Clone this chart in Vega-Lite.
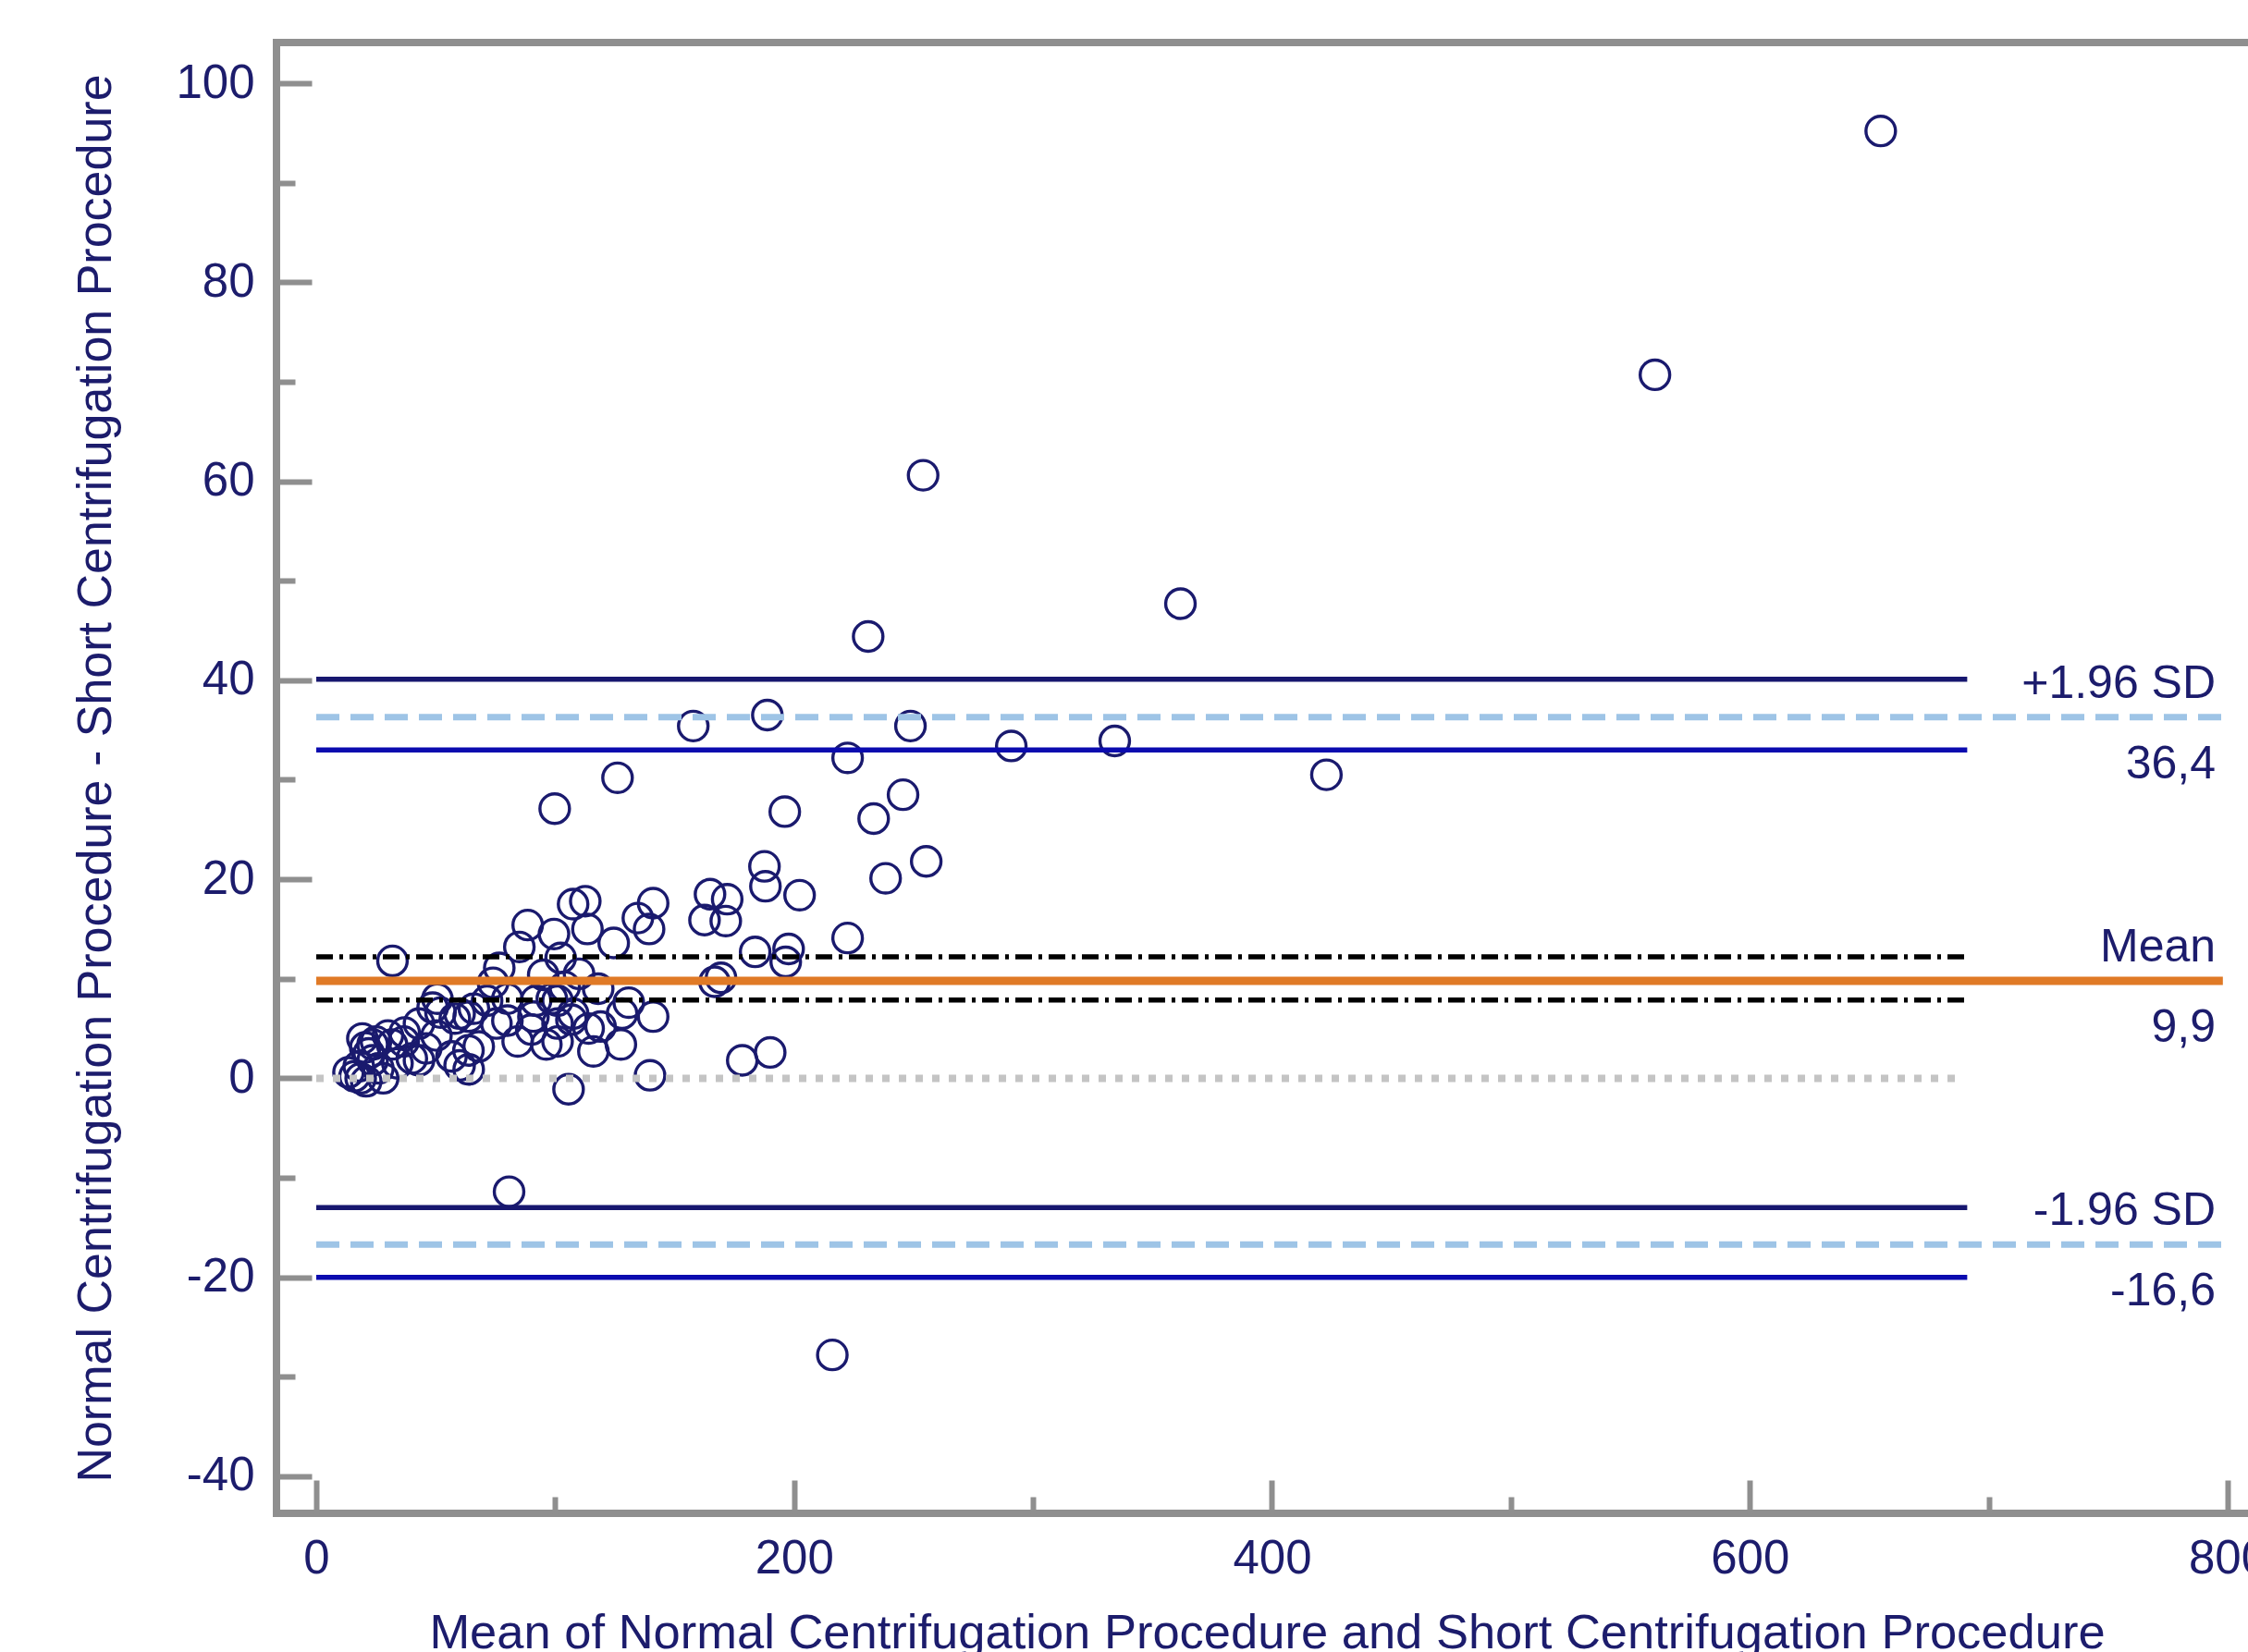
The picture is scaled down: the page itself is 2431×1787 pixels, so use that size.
{
  "$schema": "https://vega.github.io/schema/vega-lite/v6.json",
  "autosize": {"type": "none"},
  "padding": {"left": 299, "top": 46, "right": 0, "bottom": 150},
  "width": 2142,
  "height": 1591,
  "background": "white",
  "config": {"view": {"stroke": "#8f8f8f", "strokeWidth": 8}, "font": "Liberation Sans"},
  "datasets": {
    "points": [
      {"x": 654.8, "y": 95.2}, {"x": 560.3, "y": 70.7}, {"x": 254.0, "y": 60.6}, {"x": 361.7, "y": 47.7},
      {"x": 231.0, "y": 44.4}, {"x": 188.8, "y": 36.5}, {"x": 157.8, "y": 35.4}, {"x": 248.7, "y": 35.4},
      {"x": 222.4, "y": 32.2}, {"x": 290.9, "y": 33.4}, {"x": 334.2, "y": 33.9}, {"x": 422.8, "y": 30.5},
      {"x": 126.1, "y": 30.2}, {"x": 99.8, "y": 27.1}, {"x": 196.1, "y": 26.8}, {"x": 233.3, "y": 26.1},
      {"x": 245.6, "y": 28.5}, {"x": 238.3, "y": 20.1}, {"x": 255.3, "y": 21.8}, {"x": 187.6, "y": 21.3},
      {"x": 188.0, "y": 19.3}, {"x": 202.3, "y": 18.4}, {"x": 222.4, "y": 14.1}, {"x": 216.0, "y": -27.8},
      {"x": 80.7, "y": -11.4}, {"x": 31.9, "y": 11.8}, {"x": 178.3, "y": 1.8}, {"x": 190.0, "y": 2.6},
      {"x": 139.7, "y": 0.3}, {"x": 105.6, "y": -1.1},
      {"x": 164.8, "y": 18.5}, {"x": 172.0, "y": 18.0}, {"x": 162.5, "y": 15.9}, {"x": 171.4, "y": 15.8},
      {"x": 166.7, "y": 9.7}, {"x": 169.4, "y": 10.1}, {"x": 183.7, "y": 12.7}, {"x": 197.7, "y": 13.0},
      {"x": 196.5, "y": 11.7},
      {"x": 107.5, "y": 17.5}, {"x": 112.6, "y": 17.8}, {"x": 113.5, "y": 15.0}, {"x": 141.0, "y": 17.6},
      {"x": 139.3, "y": 15.0}, {"x": 134.6, "y": 16.1}, {"x": 124.5, "y": 13.6}, {"x": 99.5, "y": 14.5},
      {"x": 88.5, "y": 15.4}, {"x": 85.0, "y": 13.2}, {"x": 76.6, "y": 11.1},
      {"x": 95.0, "y": 10.4}, {"x": 102.3, "y": 12.1}, {"x": 104.0, "y": 9.2}, {"x": 110.0, "y": 10.5},
      {"x": 98.6, "y": 8.0}, {"x": 101.0, "y": 7.8}, {"x": 74.0, "y": 9.6}, {"x": 118.0, "y": 9.0},
      {"x": 63.8, "y": 6.2}, {"x": 63.8, "y": 0.9}, {"x": 71.5, "y": 7.8}, {"x": 75.4, "y": 5.5},
      {"x": 80.0, "y": 5.8}, {"x": 84.3, "y": 3.7}, {"x": 90.0, "y": 4.9}, {"x": 90.9, "y": 6.2},
      {"x": 96.3, "y": 3.4}, {"x": 101.0, "y": 5.5}, {"x": 101.0, "y": 3.7}, {"x": 106.8, "y": 5.9},
      {"x": 107.5, "y": 6.5}, {"x": 114.0, "y": 5.0}, {"x": 116.0, "y": 2.7}, {"x": 119.0, "y": 5.2},
      {"x": 127.5, "y": 3.4}, {"x": 130.8, "y": 7.6}, {"x": 128.0, "y": 6.5}, {"x": 141.0, "y": 6.2},
      {"x": 92.0, "y": 7.8}, {"x": 80.0, "y": 8.0},
      {"x": 13.5, "y": 0.6}, {"x": 16.0, "y": 0.2}, {"x": 17.8, "y": 1.2}, {"x": 18.6, "y": 0.0},
      {"x": 19.3, "y": 4.0}, {"x": 20.5, "y": 3.1}, {"x": 20.9, "y": -0.3}, {"x": 22.0, "y": 2.5},
      {"x": 23.6, "y": 1.8}, {"x": 23.6, "y": 3.4}, {"x": 25.0, "y": 3.7}, {"x": 26.0, "y": 1.0},
      {"x": 28.0, "y": 0.0}, {"x": 30.0, "y": 4.3}, {"x": 31.7, "y": 3.4}, {"x": 34.0, "y": 1.5},
      {"x": 36.6, "y": 3.7}, {"x": 37.0, "y": 4.6}, {"x": 40.0, "y": 2.0}, {"x": 43.0, "y": 5.5},
      {"x": 43.0, "y": 1.8}, {"x": 46.0, "y": 3.0}, {"x": 48.7, "y": 7.1}, {"x": 50.3, "y": 4.3},
      {"x": 50.7, "y": 8.0}, {"x": 52.0, "y": 6.6}, {"x": 56.6, "y": 2.2}, {"x": 58.0, "y": 6.0},
      {"x": 60.0, "y": 1.3}, {"x": 60.0, "y": 6.5}, {"x": 63.7, "y": 2.8}, {"x": 66.0, "y": 7.0},
      {"x": 68.0, "y": 3.2}
    ],
    "lines": [
      {"kind": "ciDark", "y": 40.1, "x": 0, "x2": 691},
      {"kind": "ciDark", "y": -13.0, "x": 0, "x2": 691},
      {"kind": "ciBlue", "y": 33.0, "x": 0, "x2": 691},
      {"kind": "ciBlue", "y": -20.0, "x": 0, "x2": 691},
      {"kind": "loa", "y": 36.3, "x": 0, "x2": 798},
      {"kind": "loa", "y": -16.7, "x": 0, "x2": 798},
      {"kind": "meanci", "y": 12.2, "x": 0, "x2": 690},
      {"kind": "meanci", "y": 7.87, "x": 0, "x2": 690},
      {"kind": "zero", "y": 0, "x": 0, "x2": 689},
      {"kind": "mean", "y": 9.8, "x": 0, "x2": 798}
    ],
    "labelsAbove": [
      {"x": 795, "y": 36.3, "label": "+1.96 SD"},
      {"x": 795, "y": 9.8, "label": "Mean"},
      {"x": 795, "y": -16.7, "label": "-1.96 SD"}
    ],
    "labelsBelow": [
      {"x": 795, "y": 36.3, "label": "36,4"},
      {"x": 795, "y": 9.8, "label": "9,9"},
      {"x": 795, "y": -16.7, "label": "-16,6"}
    ]
  },
  "encoding": {
    "x": {
      "field": "x", "type": "quantitative",
      "scale": {"domain": [-16.64, 812.39], "nice": false, "zero": false},
      "axis": {
        "values": [0, 100, 200, 300, 400, 500, 600, 700, 800],
        "title": "Mean of Normal Centrifugation Procedure and Short Centrifugation Procedure",
        "domain": false, "grid": false,
        "tickColor": "#8f8f8f", "tickWidth": 6,
        "tickSize": {"condition": {"test": "datum.value % 200 === 0", "value": -36}, "value": -18},
        "labelExpr": "datum.value % 200 === 0 ? '' + datum.value : ''",
        "labelFont": "Liberation Sans", "labelFontSize": 51, "labelColor": "#1c1c6c",
        "labelPadding": 60, "labelFlush": false, "labelOverlap": false, "labelBound": false,
        "titleFont": "Liberation Sans", "titleFontSize": 52.5, "titleColor": "#1c1c6c",
        "titleFontWeight": "normal", "titlePadding": 12
      }
    },
    "y": {
      "field": "y", "type": "quantitative",
      "scale": {"domain": [-43.72, 104.09], "nice": false, "zero": false},
      "axis": {
        "values": [-40, -30, -20, -10, 0, 10, 20, 30, 40, 50, 60, 70, 80, 90, 100],
        "title": "Normal Centrifugation Procedure - Short Centrifugation Procedure",
        "domain": false, "grid": false,
        "tickColor": "#8f8f8f", "tickWidth": 6,
        "tickSize": {"condition": {"test": "datum.value % 20 === 0", "value": -38}, "value": -20},
        "labelExpr": "datum.value % 20 === 0 ? '' + datum.value : ''",
        "labelFont": "Liberation Sans", "labelFontSize": 51, "labelColor": "#1c1c6c",
        "labelPadding": 62, "labelFlush": false, "labelOverlap": false, "labelBound": false,
        "titleFont": "Liberation Sans", "titleFontSize": 52, "titleColor": "#1c1c6c",
        "titleFontWeight": "normal", "titlePadding": 59
      }
    }
  },
  "layer": [
    {
      "data": {"name": "points"},
      "mark": {"type": "point", "shape": "circle", "filled": false, "stroke": "#1a1a6e", "strokeWidth": 3.4, "size": 1020, "opacity": 1}
    },
    {
      "data": {"name": "lines"},
      "transform": [{"filter": "datum.kind === 'zero'"}],
      "mark": {"type": "rule", "stroke": "#c4c4c4", "strokeWidth": 8, "strokeDash": [8, 10]},
      "encoding": {"x2": {"field": "x2"}}
    },
    {
      "data": {"name": "lines"},
      "transform": [{"filter": "datum.kind === 'loa'"}],
      "mark": {"type": "rule", "stroke": "#9ec4e6", "strokeWidth": 7, "strokeDash": [25, 12]},
      "encoding": {"x2": {"field": "x2"}}
    },
    {
      "data": {"name": "lines"},
      "transform": [{"filter": "datum.kind === 'ciDark'"}],
      "mark": {"type": "rule", "stroke": "#17176f", "strokeWidth": 5.5},
      "encoding": {"x2": {"field": "x2"}}
    },
    {
      "data": {"name": "lines"},
      "transform": [{"filter": "datum.kind === 'ciBlue'"}],
      "mark": {"type": "rule", "stroke": "#0b0baf", "strokeWidth": 5.5},
      "encoding": {"x2": {"field": "x2"}}
    },
    {
      "data": {"name": "lines"},
      "transform": [{"filter": "datum.kind === 'meanci'"}],
      "mark": {"type": "rule", "stroke": "#000000", "strokeWidth": 5.5, "strokeDash": [18, 7, 4, 7]},
      "encoding": {"x2": {"field": "x2"}}
    },
    {
      "data": {"name": "lines"},
      "transform": [{"filter": "datum.kind === 'mean'"}],
      "mark": {"type": "rule", "stroke": "#e07a26", "strokeWidth": 9},
      "encoding": {"x2": {"field": "x2"}}
    },
    {
      "data": {"name": "labelsAbove"},
      "mark": {"type": "text", "align": "right", "baseline": "alphabetic", "dy": -21, "font": "Liberation Sans", "fontSize": 50, "color": "#1c1c6c"},
      "encoding": {"text": {"field": "label"}}
    },
    {
      "data": {"name": "labelsBelow"},
      "mark": {"type": "text", "align": "right", "baseline": "alphabetic", "dy": 66, "font": "Liberation Sans", "fontSize": 50, "color": "#1c1c6c"},
      "encoding": {"text": {"field": "label"}}
    }
  ]
}
